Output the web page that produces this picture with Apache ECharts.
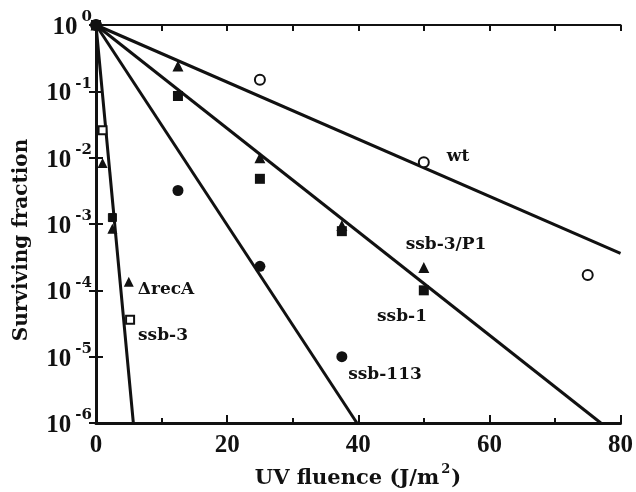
<!DOCTYPE html>
<html><head><meta charset="utf-8">
<script src="https://cdn.jsdelivr.net/npm/echarts@6/dist/echarts.min.js"></script>
<style>html,body{margin:0;padding:0;background:#fff}#c{width:636px;height:492px}</style>
</head><body><div id="c"></div>
<script>
// Data
const xTicks = [0, 20, 40, 60, 80];
const wtX = [0, 25, 50, 75];
const wtY = [1, 0.15, 0.0085, 1.7e-4];
const p1X = [0, 12.5, 25, 37.5, 50];
const p1Y = [1, 0.24, 0.01, 9.5e-4, 2.2e-4];
const ssb1X = [0, 12.5, 25, 37.5, 50];
const ssb1Y = [1, 0.085, 0.0048, 7.8e-4, 1e-4];
const ssb113X = [0, 12.5, 25, 37.5];
const ssb113Y = [1, 0.0032, 2.3e-4, 1e-5];
const recAX = [0, 1, 2.5, 5];
const recAY = [1, 0.0083, 8.5e-4, 1.35e-4];
const ssb3X = [0, 1, 2.5, 5.2];
const ssb3Y = [1, 0.026, 1.25e-3, 3.6e-5];
const ssb3Filled = [false, false, true, false];
// fitted lines (start, end)
const fitWt = [[0, 1], [80, 3.6e-4]];
const fitSsb1 = [[0, 1], [77, 1e-6]];
const fitSsb113 = [[0, 1], [39.8, 1e-6]];
const fitRecA = [[0, 1], [5.7, 1e-6]];

const FONT = 'DejaVu Serif';
const NUMFONT = 'Liberation Serif';
const INK = '#111';
const zip = (xs, ys) => xs.map((x, i) => [x, ys[i]]);

const chart = echarts.init(document.getElementById('c'), null, {renderer: 'canvas'});
const lineSeries = (d) => ({type: 'line', data: d, symbol: 'none', lineStyle: {color: INK, width: 3}, z: 2, silent: true});
const sc = (d, sym, size, filled, z) => ({
  type: 'scatter', data: d, symbol: sym, symbolSize: size, z: z || 3,
  itemStyle: filled ? {color: INK, opacity: 1} : {color: '#fff', borderColor: INK, borderWidth: 2, opacity: 1}
});

const supFmt = (v) => {
  const e = Math.round(Math.log10(v));
  return '{b|10}{s|' + e + '}';
};

chart.setOption({
  animation: false,
  backgroundColor: '#fff',
  grid: {left: 96, right: 15, top: 25, bottom: 69},
  xAxis: [{
    type: 'value', min: 0, max: 80, interval: 20,
    axisLine: {lineStyle: {color: INK, width: 3}},
    axisTick: {inside: true, length: 8, lineStyle: {color: INK, width: 2}},
    minorTick: {show: true, splitNumber: 2, length: 5, lineStyle: {color: INK, width: 2}},
    splitLine: {show: false},
    axisLabel: {fontFamily: NUMFONT, fontWeight: 'bold', fontSize: 25, color: INK, margin: 10,
      formatter: (v) => xTicks.includes(v) ? String(v) : ''}
  }, {
    type: 'value', min: 0, max: 80, interval: 10, position: 'top',
    axisLine: {show: true, lineStyle: {color: INK, width: 2}},
    axisTick: {inside: true, length: 6, lineStyle: {color: INK, width: 2}},
    axisLabel: {show: false}, splitLine: {show: false}
  }],
  yAxis: [{
    type: 'log', logBase: 10, min: 1e-6, max: 1,
    axisLine: {show: true, lineStyle: {color: INK, width: 3}},
    axisTick: {show: true, inside: true, length: 7, lineStyle: {color: INK, width: 2}},
    splitLine: {show: false},
    axisLabel: {color: INK, margin: 4,
      formatter: supFmt,
      rich: {
        b: {fontFamily: NUMFONT, fontWeight: 'bold', fontSize: 25, color: INK, padding: [5, 0, 0, 0]},
        s: {fontFamily: FONT, fontWeight: 'bold', fontSize: 15, color: INK, verticalAlign: 'top', padding: [0, 0, 9, 4]}
      }}
  }, {
    type: 'log', logBase: 10, min: 1e-6, max: 1, position: 'right',
    axisLine: {show: true, lineStyle: {color: INK, width: 3}},
    axisTick: {show: true, inside: true, length: 7, lineStyle: {color: INK, width: 2}},
    axisLabel: {show: false}, splitLine: {show: false}
  }],
  series: [
    lineSeries(fitWt), lineSeries(fitSsb1), lineSeries(fitSsb113), lineSeries(fitRecA),
    sc(zip(wtX, wtY), 'circle', 10, false),
    sc(zip(p1X, p1Y), 'triangle', 11, true),
    sc(zip(ssb113X, ssb113Y), 'circle', 11, true),
    sc(zip(recAX, recAY), 'triangle', 10, true),
    {
      type: 'scatter', symbol: 'rect', symbolSize: 8, z: 3,
      data: zip(ssb3X, ssb3Y).map((p, i) => ({value: p,
        itemStyle: ssb3Filled[i] ? {color: INK, borderColor: INK, borderWidth: 1, opacity: 1} : {color: '#fff', borderColor: INK, borderWidth: 2, opacity: 1}}))
    },
    sc(zip(ssb1X, ssb1Y), 'rect', 10, true, 4)
  ],
  graphic: [
    ['wt', 458, 157], ['ssb-3/P1', 446, 245], ['ssb-1', 402, 317],
    ['ssb-113', 385, 375], ['\u0394recA', 166, 290], ['ssb-3', 163, 336]
  ].map(([t, x, y]) => ({
    type: 'text', x: x, y: y, z: 10,
    style: {text: t, fill: INK, font: 'bold 17px "' + FONT + '"', textAlign: 'center', textVerticalAlign: 'middle'}
  })).concat([
    {type: 'text', x: 22, y: 240, rotation: Math.PI / 2, z: 10,
      style: {text: 'Surviving fraction', fill: INK, font: 'bold 20px "' + FONT + '"', textAlign: 'center', textVerticalAlign: 'middle'}},
    {type: 'text', x: 358, y: 476, z: 10,
      style: {text: '{a|UV fluence (J/m}{s|2}{a|)}', textAlign: 'center', textVerticalAlign: 'middle',
        rich: {
          a: {fontFamily: FONT, fontWeight: 'bold', fontSize: 21, fill: INK, padding: [5, 0, 0, 0]},
          s: {fontFamily: FONT, fontWeight: 'bold', fontSize: 13, fill: INK, verticalAlign: 'top', padding: [0, 1, 5, 2]}
        }}}
  ])
});
</script></body></html>
